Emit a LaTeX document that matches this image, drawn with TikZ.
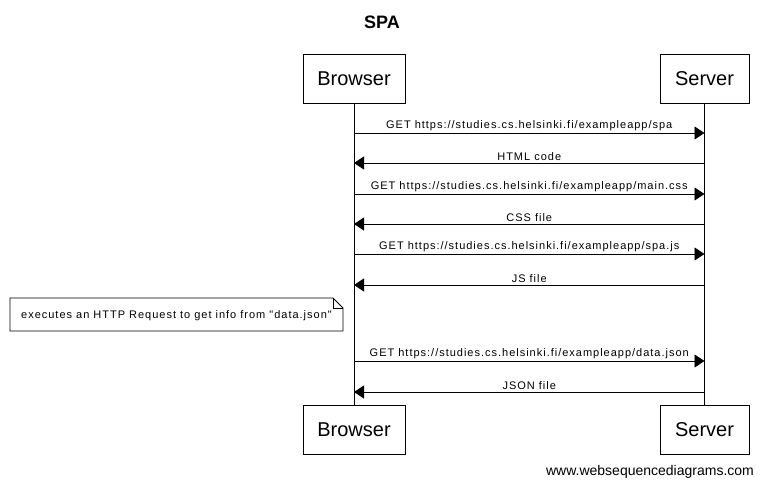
\documentclass[tikz,border=0pt]{standalone}
\usepackage{fontspec}
\setmainfont{Liberation Sans}
\newfontfamily\smallsp[LetterSpace=9]{Liberation Sans}
\usetikzlibrary{arrows.meta}
\begin{document}
\begin{tikzpicture}[x=1pt,y=-1pt,
  actor/.style={draw, line width=1pt, minimum height=49pt, inner sep=0pt, font=\fontsize{20}{22}\selectfont},
  msg/.style={line width=0.8pt, -{Triangle[length=10pt,width=13pt]}},
  lbl/.style={font=\smallsp\fontsize{11}{12}\selectfont, above=1pt, midway, inner sep=1pt},
  life/.style={line width=0.8pt}]
\useasboundingbox (0,0) rectangle (764,488);
\fill[white] (0,0) rectangle (764,488);
\node[font=\bfseries\fontsize{18}{20}\selectfont] (title) at (382,22) {SPA};
\node[actor, minimum width=102pt] (bt) at (354,78.5) {Browser};
\node[actor, minimum width=89pt] (st) at (704.5,78.5) {Server};
\node[actor, minimum width=102pt] (bb) at (354,430) {Browser};
\node[actor, minimum width=89pt] (sb) at (704.5,430) {Server};
\draw[life] (bt.south) -- (bb.north);
\draw[life] (st.south) -- (sb.north);
% message coordinates
\foreach \i/\y in {1/133,2/163,3/194,4/224,5/254,6/285,7/361,8/392}{
  \coordinate (b\i) at (354,\y);
  \coordinate (s\i) at (704.5,\y);
}
\draw[msg] (b1) -- (s1) node[lbl] {GET https://studies.cs.helsinki.fi/exampleapp/spa};
\draw[msg] (s2) -- (b2) node[lbl] {HTML code};
\draw[msg] (b3) -- (s3) node[lbl] {GET https://studies.cs.helsinki.fi/exampleapp/main.css};
\draw[msg] (s4) -- (b4) node[lbl] {CSS file};
\draw[msg] (b5) -- (s5) node[lbl] {GET https://studies.cs.helsinki.fi/exampleapp/spa.js};
\draw[msg] (s6) -- (b6) node[lbl] {JS file};
\draw[msg] (b7) -- (s7) node[lbl] {GET https://studies.cs.helsinki.fi/exampleapp/data.json};
\draw[msg] (s8) -- (b8) node[lbl] {JSON file};
% note
\draw[line width=0.8pt, fill=white] (10,298) -- (333,298) -- (343,308) -- (343,331) -- (10,331) -- cycle;
\draw[line width=0.8pt] (333,298) -- (333,308) -- (343,308);
\node[font=\smallsp\fontsize{11}{12}\selectfont, inner sep=0pt] (note) at (176.5,316) {executes an HTTP Request to get info from "data.json"};
\node[font=\fontsize{14}{16}\selectfont, inner sep=0pt] (foot) at (650,472) {www.websequencediagrams.com};
\end{tikzpicture}
\end{document}
